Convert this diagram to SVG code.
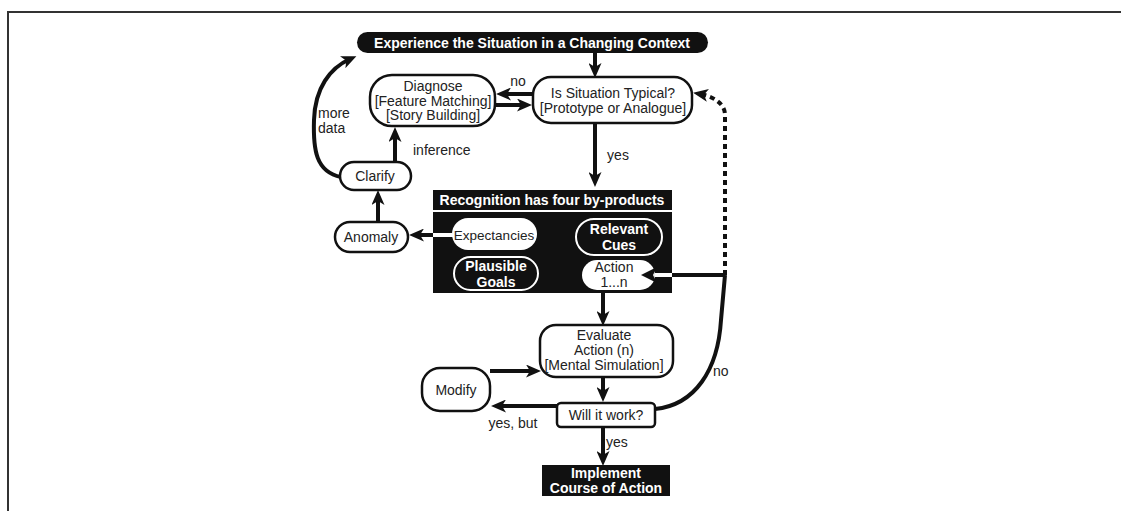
<svg xmlns="http://www.w3.org/2000/svg" width="1121" height="511" viewBox="0 0 1121 511">
  <defs>
    <marker id="head" markerUnits="userSpaceOnUse" markerWidth="15" markerHeight="13" refX="8" refY="6.5" orient="auto">
      <path d="M0,0 L15,6.5 L0,13 L4,6.5 z" fill="#111"/>
    </marker>
    <style>
      text { font-family: "Liberation Sans", Arial, sans-serif; font-size: 14px; fill: #222; text-anchor: middle; }
      .bold { font-weight: bold; }
      .inv { fill: #fff; }
      .lbl { text-anchor: start; }
      .box { fill: #fff; stroke: #111; stroke-width: 2.5; }
      .dark { fill: #111; }
      .ring { fill: #111; stroke: #fff; stroke-width: 2; }
      .arrow { fill: none; stroke: #111; stroke-width: 4; marker-end: url(#head); }
      .line { fill: none; stroke: #111; stroke-width: 4; }
      .white { fill: none; stroke: #fff; stroke-width: 4; }
      .dots { fill: none; stroke: #111; stroke-width: 4; stroke-dasharray: 5 4; marker-end: url(#head); }
      .frame { fill: none; stroke: #333; stroke-width: 2; }
    </style>
  </defs>

  <!-- page frame: top and left rules -->
  <path class="frame" d="M8,511 L8,12 L1121,12"/>

  <!-- connectors -->
  <g id="connectors">
    <path class="arrow" d="M595,53 L595,71"/>
    <path class="arrow" d="M533,94 L503,94"/>
    <path class="arrow" d="M495,105 L525,105"/>
    <path class="arrow" d="M595,123 L595,180"/>
    <path class="arrow" d="M395,162 L395,134"/>
    <path class="arrow" d="M378,222 L378,197"/>
    <path class="arrow" d="M433,235 L416,235"/>
    <path class="arrow" d="M341,177 C316,172 313,150 314,120 C315,88 330,68 350,59"/>
    <path class="arrow" d="M603,290 L603,319"/>
    <path class="arrow" d="M603,377 L603,395"/>
    <path class="arrow" d="M603,427 L603,459"/>
    <path class="arrow" d="M490,371 L534,371"/>
    <path class="arrow" d="M557,406 L498,406"/>
    <path class="line" d="M655,409 C695,405 718,370 721,320 L725,275"/>
    <path class="line" d="M725,275 L672,275"/>
    <path class="dots" d="M725,275 L725,115 C725,103 712,96 700,94"/>
  </g>

  <g id="experience">
    <rect class="dark" x="357" y="32" width="351" height="21" rx="10.5"/>
    <text class="bold inv" x="532" y="47.5">Experience the Situation in a Changing Context</text>
  </g>

  <g id="diagnose">
    <rect class="box" x="370" y="75" width="125" height="51" rx="22"/>
    <text x="433" y="91">Diagnose</text>
    <text x="433" y="106">[Feature Matching]</text>
    <text x="433" y="120">[Story Building]</text>
  </g>

  <g id="typical">
    <rect class="box" x="533" y="77" width="159" height="46" rx="18"/>
    <text x="613" y="98">Is Situation Typical?</text>
    <text x="613" y="113">[Prototype or Analogue]</text>
  </g>

  <g id="clarify">
    <rect class="box" x="340" y="162" width="71" height="28" rx="14"/>
    <text x="375" y="181">Clarify</text>
  </g>

  <g id="anomaly">
    <rect class="box" x="335" y="222" width="73" height="30" rx="15"/>
    <text x="371" y="242">Anomaly</text>
  </g>

  <g id="recognition">
    <rect class="dark" x="433" y="190" width="239" height="20"/>
    <rect class="dark" x="433" y="212" width="239" height="81"/>
    <text class="bold inv" x="552" y="205">Recognition has four by-products</text>
  </g>

  <g id="expectancies">
    <path class="white" d="M433,235 L453,235"/>
    <rect x="452" y="218" width="85" height="32" rx="16" fill="#fff"/>
    <text x="494" y="239.5" style="font-size:13.5px">Expectancies</text>
  </g>

  <g id="cues">
    <rect class="ring" x="576" y="219" width="86" height="36" rx="18"/>
    <text class="bold inv" x="619" y="234">Relevant</text>
    <text class="bold inv" x="619" y="250">Cues</text>
  </g>

  <g id="goals">
    <rect class="ring" x="454" y="257" width="84" height="33" rx="16.5"/>
    <text class="bold inv" x="496" y="271">Plausible</text>
    <text class="bold inv" x="496" y="287">Goals</text>
  </g>

  <g id="action">
    <path class="white" d="M655,275 L672,275"/>
    <rect x="582" y="260" width="73" height="30" rx="15" fill="#fff"/>
    <polygon points="641,275 657,267 653,275 657,283" fill="#111"/>
    <text x="614" y="272">Action</text>
    <text x="614" y="287">1...n</text>
  </g>

  <g id="evaluate">
    <rect class="box" x="540" y="325" width="133" height="52" rx="16"/>
    <text x="604" y="340">Evaluate</text>
    <text x="604" y="355">Action (n)</text>
    <text x="604" y="370">[Mental Simulation]</text>
  </g>

  <g id="modify">
    <rect class="box" x="422" y="368" width="68" height="43" rx="18"/>
    <text x="456" y="395">Modify</text>
  </g>

  <g id="work">
    <rect class="box" x="557" y="403" width="98" height="24" rx="4"/>
    <text x="606" y="420">Will it work?</text>
  </g>

  <g id="implement">
    <rect class="dark" x="542" y="465" width="128" height="31"/>
    <text class="bold inv" x="606" y="478">Implement</text>
    <text class="bold inv" x="606" y="493">Course of Action</text>
  </g>

  <!-- edge labels -->
  <g id="labels">
    <text x="518" y="86">no</text>
    <text x="618" y="160">yes</text>
    <text class="lbl" x="318" y="118">more</text>
    <text class="lbl" x="318" y="133">data</text>
    <text class="lbl" x="413" y="155">inference</text>
    <text x="513" y="428">yes, but</text>
    <text class="lbl" x="606" y="447">yes</text>
    <text class="lbl" x="713" y="376">no</text>
  </g>
</svg>
